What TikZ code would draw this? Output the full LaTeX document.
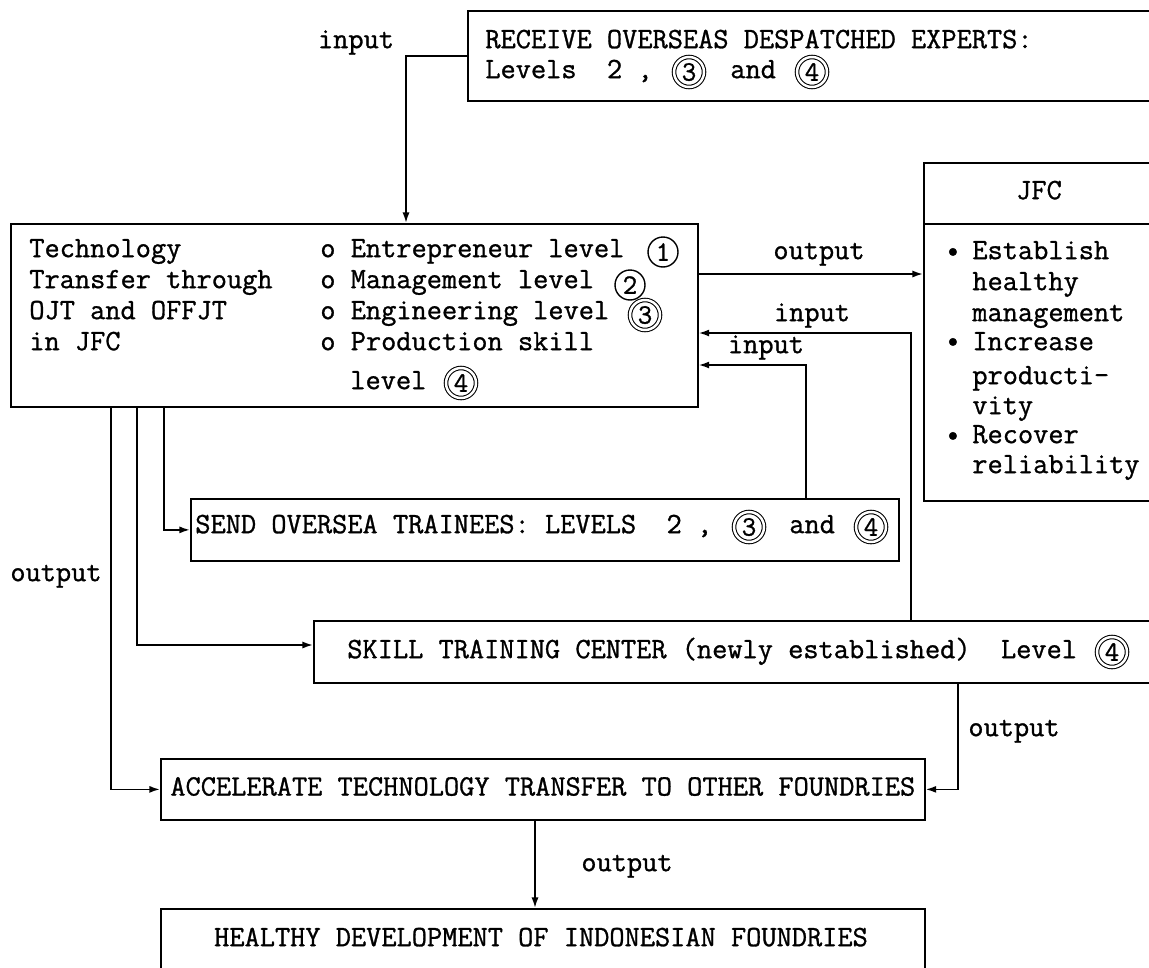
\documentclass[tikz,border=0pt]{standalone}
\usepackage{fontspec}
\newfontfamily\tw[FakeBold=1]{Latin Modern Mono}
\usetikzlibrary{arrows.meta}
\begin{document}
\begin{tikzpicture}[x=0.02cm,y=-0.02cm,
  txt/.style={font=\tw\fontsize{16.8}{19}\selectfont, inner sep=0pt, anchor=west, text height=10pt, text depth=3pt},
  ctxt/.style={txt, anchor=center},
  box/.style={draw, line width=1pt, inner sep=0pt, anchor=north west},
  arr/.style={line width=1pt, -{Latex[length=6pt,width=4pt]}},
  lab/.style={ctxt},
  cone/.style={circle, draw, line width=0.8pt, minimum size=0.6cm, inner sep=0pt, font=\tw\fontsize{16}{16}\selectfont},
  ctwo/.style={circle, draw, line width=0.6pt, double, double distance=1.4pt, minimum size=0.6cm, inner sep=0pt, font=\tw\fontsize{16}{16}\selectfont}]
\path[use as bounding box] (0,0) rectangle (1149,967);
\fill[white] (0,0) rectangle (1149,967);
\clip (0,0) rectangle (1149,967);

% boxes
\node[box, minimum width=14.06cm, minimum height=1.8cm] (recv) at (467,10) {};
\node[box, minimum width=13.74cm, minimum height=3.66cm] (main) at (10,223) {};
\node[box, minimum width=4.94cm, minimum height=6.76cm] (jfc) at (923,162) {};
\draw[line width=1pt] (jfc.west |- 0,224) -- (jfc.east |- 0,224);
\node[box, minimum width=14.16cm, minimum height=1.24cm] (send) at (190,498) {};
\node[box, minimum width=17.14cm, minimum height=1.24cm] (skill) at (313,620) {};
\node[box, minimum width=15.28cm, minimum height=1.22cm] (acc) at (160,758) {};
\node[box, minimum width=15.28cm, minimum height=1.84cm] (health) at (160,908) {};

% texts: receive
\node[txt] (r1) at (485,42) {RECEIVE OVERSEAS DESPATCHED EXPERTS:};
\node[txt] (r2) at (485,72) {Levels\ \ 2 ,};
\node[txt] (r3) at (730,72) {and};
\node[ctwo] (rc3) at (689,72) {3};
\node[ctwo] (rc4) at (812,72) {4};

% texts: main
\node[txt] (m1) at (29,251) {Technology};
\node[txt] (m2) at (29,282) {Transfer through};
\node[txt] (m3) at (29,313) {OJT and OFFJT};
\node[txt] (m4) at (29,344) {in JFC};
\node[txt] (n1) at (320,251) {o Entrepreneur level};
\node[txt] (n2) at (320,282) {o Management level};
\node[txt] (n3) at (320,313) {o Engineering level};
\node[txt] (n4) at (320,344) {o Production skill};
\node[txt] (n5) at (350,383) {level};
\node[cone] (mc1) at (663,252) {1};
\node[cone] (mc2) at (630,285) {2};
\node[ctwo] (mc3) at (645,315) {3};
\node[ctwo] (mc4) at (461,383) {4};

% texts: JFC
\node[ctxt] (j0) at (1039,193) {JFC};
\node[txt] (jb1) at (945,253) {\textbullet};
\node[txt] (jb2) at (945,343) {\textbullet};
\node[txt] (jb3) at (945,437) {\textbullet};
\node[txt] (j1) at (972,253) {Establish};
\node[txt] (j2) at (972,284) {healthy};
\node[txt] (j3) at (972,315) {management};
\node[txt] (j4) at (972,344) {Increase};
\node[txt] (j5) at (972,378) {producti-};
\node[txt] (j6) at (972,408) {vity};
\node[txt] (j7) at (972,437) {Recover};
\node[txt] (j8) at (972,467) {reliability};

% texts: send
\node[txt] (s1) at (195,527) {SEND OVERSEA TRAINEES: LEVELS\ \ 2 ,};
\node[txt] (s2) at (789,527) {and};
\node[ctwo] (sc3) at (749,527) {3};
\node[ctwo] (sc4) at (871,527) {4};

% texts: skill
\node[txt] (k1) at (347,652) {SKILL TRAINING CENTER (newly established)\ \ Level};
\node[ctwo] (kc4) at (1112,652) {4};

% texts: acc, health
\node[ctxt] (a1) at (acc.center) {ACCELERATE TECHNOLOGY TRANSFER TO OTHER FOUNDRIES};
\node[ctxt] (h1) at (541,940) {HEALTHY DEVELOPMENT OF INDONESIAN FOUNDRIES};

% connectors
\draw[arr] (recv.west) -| (main.north -| 406,0);
\draw[arr] (main.east |- 0,274) -- (jfc.west |- 0,274);
\draw[arr] (skill.north -| 911,0) |- (main.east |- 0,333);
\draw[arr] (send.north -| 806,0) |- (main.east |- 0,365);
\draw[arr] (main.south -| 164,0) |- (send.west);
\draw[arr] (main.south -| 137,0) |- (skill.west |- 0,645);
\draw[arr] (main.south -| 111,0) |- (acc.west);
\draw[arr] (skill.south -| 958,0) |- (acc.east);
\draw[arr] (acc.south -| 535,0) -- (health.north -| 535,0);

% labels
\node[lab] (l1) at (356,42) {input};
\node[lab] (l2) at (819,253) {output};
\node[lab] (l3) at (812,315) {input};
\node[lab] (l4) at (766,347) {input};
\node[lab] (l5) at (56,575) {output};
\node[lab] (l6) at (1014,730) {output};
\node[lab] (l7) at (627,865) {output};
\end{tikzpicture}
\end{document}
